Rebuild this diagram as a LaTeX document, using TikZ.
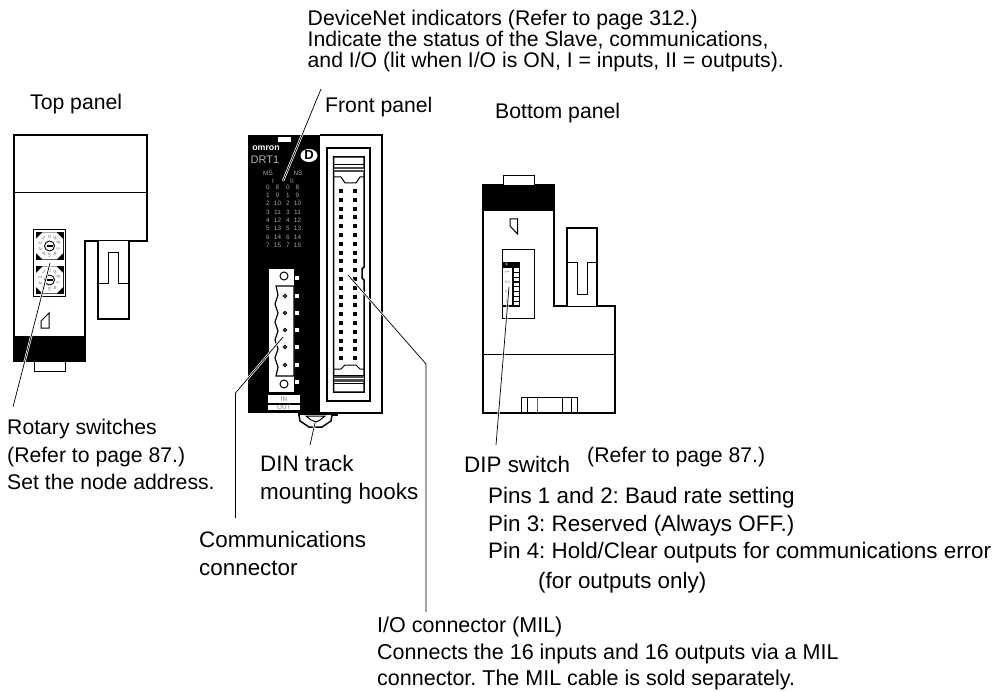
\documentclass[tikz,border=0pt]{standalone}
\usepackage{fontspec}
\setmainfont{Liberation Sans}
\begin{document}
\frenchspacing
\begin{tikzpicture}[x=1pt,y=-1pt,
  lab/.style={anchor=west,inner sep=0pt,align=left,font=\fontsize{21.2}{24}\selectfont},
  labb/.style={anchor=west,inner sep=0pt,align=left,font=\fontsize{22.4}{24}\selectfont},
  tiny/.style={inner sep=0pt,text=black!35,font=\fontsize{6.4}{7}\selectfont},
  body/.style={draw=black,line width=1.6pt,line join=miter,fill=white},
  thin/.style={draw=black,line width=1pt},
  leader/.style={draw=black,line width=.7pt,preaction={draw=white,line width=2.2pt}},
  blk/.style={fill=black,draw=none},
  pin/.style={draw=black,line width=1.6pt,fill=white,minimum size=2.4pt,inner sep=0pt}]
\useasboundingbox (0,0) rectangle (1000,692);
%%% Top panel
\draw[body] (14,135) -- (147,135) -- (147,241) -- (85,241) -- (85,340) -- (14,340) -- cycle;
\draw[thin] (14,193) -- (147,193);
\fill[blk] (13,336) rectangle (86,362);
\draw[thin,fill=white] (34,362) -- (34,371) -- (65,371) -- (65,362);
\draw[body] (98,241) -- (98,319) -- (129,319) -- (129,241);
\draw[thin] (98,284) -- (108,284) -- (108,253) -- (118,253) -- (118,284) -- (129,284);
\draw[thin] (49,313) -- (49,328) -- (41,328) -- (41,321) -- cycle;
\draw[draw=black,line width=1.4pt,fill=white] (33.5,229.5) rectangle (65.5,296.5);
\foreach \cy/\sn in {246/a,280/b}{
  \begin{scope}[shift={(49.5,\cy)}]
    \fill[black] (-14,-14) rectangle (14,14);
    \fill[white] (-13.5,-7) -- (-7,-13.5) -- (7,-13.5) -- (13.5,-7) -- (13.5,7) -- (7,13.5) -- (-7,13.5) -- (-13.5,7) -- cycle;
    \foreach \d [count=\k from 0] in {0,1,2,3,4,5,6,7,8,9}{
      \node[inner sep=0pt,text=black!60,font=\fontsize{5}{5}\selectfont,rotate=-\k*36] (dial\sn\k) at ({90-\k*36}:-9.5) {\d};
    }
    \draw[black,line width=.9pt,fill=white] (0,0) circle (5);
    \fill[black] (-3,-.9) rectangle (3,.9);
  \end{scope}
}
%%% Front panel
\draw[body] (320,135) -- (382,135) -- (382,413) -- (320,413);
\fill[blk] (248,135) rectangle (320,413);
\fill[white] (278,137) rectangle (291,142);
\node[inner sep=0pt,text=white,font=\bfseries\fontsize{8.8}{9}\selectfont] (omron) at (266,148) {omron};
\node[inner sep=0pt,text=black!30,font=\fontsize{11}{12}\selectfont] (drt) at (265,159.5) {DRT1};
\fill[white] (309,155.5) ellipse (8.5 and 6.5);
\node[inner sep=0pt,font=\bfseries\fontsize{13}{13}\selectfont] (dlogo) at (309,155.5) {D};
\node[tiny] (ms) at (268,173) {MS};
\node[tiny] (ns) at (298,173) {NS};
\node[tiny] (one) at (273,181) {I};
\node[tiny] (two) at (292,181) {II};
\foreach \a/\b [count=\r from 0] in {0/8,1/9,2/10,3/11,4/12,5/13,6/14,7/15}{
  \node[tiny] (ia\r) at (268,187+\r*8.3) {\a};
  \node[tiny] (ib\r) at (277.5,187+\r*8.3) {\b};
  \node[tiny] (oa\r) at (288,187+\r*8.3) {\a};
  \node[tiny] (ob\r) at (297.5,187+\r*8.3) {\b};
}
% MIL connector
\draw[draw=black,line width=1.5pt] (327,148) rectangle (370,401);
\draw[draw=black,line width=1.5pt] (333.5,157) -- (364,157) -- (364,267) -- (362,269) -- (362,278) -- (364,280) -- (364,392) -- (333.5,392) -- cycle;
\draw[thin] (333.5,165) -- (364,165);
\fill[black!70] (333.5,167) rectangle (364,172.5);
\fill[white] (333.5,169) rectangle (364,170);
\draw[thin] (333.5,177) -- (341,177) -- (345,183) -- (356,183) -- (360,177) -- (364,177);
\draw[thin] (333.5,375) -- (364,375);
\draw[thin] (333.5,369) -- (341,369) -- (345,365) -- (356,365) -- (360,369) -- (364,369);
\fill[black!70] (333.5,376) rectangle (364,382);
\fill[white] (333.5,378) rectangle (364,379);
\draw[thin] (333.5,383.5) -- (364,383.5);
\foreach \r in {0,...,19}{
  \node[pin] (pl\r) at (341,191+\r*8.8) {};
  \node[pin] (pr\r) at (355,191+\r*8.8) {};
}
% terminal block
\fill[white] (269,269) rectangle (294,392);
\foreach \y in {278,296,313,330,347,365,382}{
  \draw[draw=black,line width=.9pt,fill=white] (294,\y-2.5) rectangle (299,\y+2.5);
}
\draw[draw=black,line width=1.2pt,fill=white] (276,286) -- (294,286) -- (294,376) -- (276,376) -- (278,367) -- (275,358) -- (278,349) -- (275,340) -- (278,331) -- (275,322) -- (278,313) -- (275,304) -- (278,295) -- cycle;
\draw[draw=black,line width=1pt] (284,276) circle (4);
\draw[draw=black,line width=1pt] (284,384) circle (4);
\foreach \y in {296,313,330,347,365}{
  \draw[draw=black,line width=1.1pt,fill=white] (285,\y) circle (1.7);
}
\fill[white] (268,395) rectangle (300,403);
\fill[white] (268,404.5) rectangle (300,410);
\node[inner sep=0pt,text=black!50,font=\fontsize{6.4}{7}\selectfont] (inl) at (284,399) {IN};
\node[inner sep=0pt,text=black!50,font=\fontsize{6.4}{7}\selectfont] (outl) at (284,407) {OUT};
% hook
\fill[blk] (298,412) rectangle (338,416);
\draw[draw=black,line width=1.5pt,fill=white] (299,415) -- (300,421) -- (309,427) -- (322,427) -- (331,421) -- (332,415);
\draw[draw=black,line width=1pt] (306,416) -- (325,416) -- (320,420) -- (316,422) -- (311,420) -- cycle;
\fill[blk] (298,412) rectangle (338,415);
%%% Bottom panel
\draw[body] (483,185) -- (554,185) -- (554,306) -- (615,306) -- (615,413) -- (483,413) -- cycle;
\fill[blk] (482,185) rectangle (555,211);
\draw[thin,fill=white] (503,185) -- (503,176) -- (534,176) -- (534,185);
\draw[thin] (510,219) -- (517.5,219) -- (517.5,234) -- (510,226) -- cycle;
\draw[thin] (502,250) rectangle (534,318);
\draw[body] (567,306) -- (567,228) -- (597,228) -- (597,306);
\draw[thin] (567,263) -- (577,263) -- (577,295) -- (587,295) -- (587,263) -- (597,263);
\draw[thin] (483,354) -- (615,354);
\draw[thin] (521,413) -- (521,397.5) -- (577,397.5) -- (577,413);
\draw[thin] (527,397.5) -- (527,413);
\draw[draw=black!60,line width=1pt] (537,397.5) -- (537,413);
\draw[thin] (562,397.5) -- (562,413);
\draw[draw=black,line width=1pt] (571,397.5) -- (571,413);
% DIP switch
\draw[draw=black,line width=1.1pt,fill=white] (502.5,262.5) rectangle (519.5,306);
\fill[blk] (502,262) rectangle (520,268);
\node[inner sep=0pt,text=white,font=\fontsize{6}{6}\selectfont] (plus) at (506.5,265) {+};
\foreach \n [count=\k from 0] in {1,2,3,4}{
  \draw[draw=black,line width=1pt] (513,268+\k*9.5) rectangle (519.5,268+\k*9.5+9.5);
  \fill[black] (513,272+\k*9.5) rectangle (519.5,273.5+\k*9.5);
  \node[inner sep=0pt,text=black!45,rotate=-90,font=\fontsize{6}{6}\selectfont] (dipn\k) at (507.5,272.5+\k*9.5) {\n};
}
\fill[black] (512,268) rectangle (513.2,306);
%%% Labels
\node[lab,font=\fontsize{21.2}{21}\selectfont,anchor=north west] (lbdev) at (307.5,9.5) {DeviceNet indicators (Refer to page 312.)\\Indicate the status of the Slave, communications,\\and I/O (lit when I/O is ON, I = inputs, II = outputs).};
\node[lab] (lbtop) at (30,104) {Top panel};
\node[lab] (lbfront) at (325,107) {Front panel};
\node[lab] (lbbot) at (495,113) {Bottom panel};
\node[lab,font=\fontsize{21.2}{27.5}\selectfont,anchor=north west] (lbrot) at (7,419) {Rotary switches\\(Refer to page 87.)\\Set the node address.};
\node[labb,font=\fontsize{22.4}{28.5}\selectfont,anchor=north west] (lbdin) at (260,455) {DIN track\\mounting hooks};
\node[labb,font=\fontsize{22.4}{28}\selectfont,anchor=north west] (lbcom) at (199,531) {Communications\\connector};
\node[labb] (lbdip) at (464,464) {DIP switch};
\node[lab] (lbref) at (587,457) {(Refer to page 87.)};
\node[labb] (lbp1) at (488,498) {Pins 1 and 2: Baud rate setting};
\node[labb] (lbp2) at (488,526) {Pin 3: Reserved (Always OFF.)};
\node[labb] (lbp3) at (488,553) {Pin 4: Hold/Clear outputs for communications error};
\node[labb] (lbp4) at (538,583) {(for outputs only)};
\node[lab,font=\fontsize{21.5}{26.5}\selectfont,anchor=north west] (lbio) at (377,617) {I/O connector (MIL)\\Connects the 16 inputs and 16 outputs via a MIL\\connector. The MIL cable is sold separately.};
%%% Leaders
\coordinate (cdevA) at (321,89);
\coordinate (cdevB) at (283,181);
\coordinate (crotA) at (13,407);
\coordinate (crotB) at (50,263);
\coordinate (ccomA) at (283,337);
\coordinate (ccomB) at (235.5,393);
\coordinate (ccomC) at (235.5,518);
\coordinate (cdinA) at (315,423);
\coordinate (cdinB) at (310,445);
\coordinate (cioA) at (348,275);
\coordinate (cioB) at (426,364);
\coordinate (cioC) at (426,612);
\coordinate (cdipA) at (509,287);
\coordinate (cdipB) at (496,445);
\path[leader] (cdevA) -- (cdevB);
\path[leader] (crotA) -- (crotB);
\path[leader] (ccomA) -- (ccomB) -- (ccomC);
\path[leader] (cdinA) -- (cdinB);
\path[leader] (cioA) -- (cioB) -- (cioC);
\path[leader] (cdipA) -- (cdipB);
\end{tikzpicture}
\end{document}
